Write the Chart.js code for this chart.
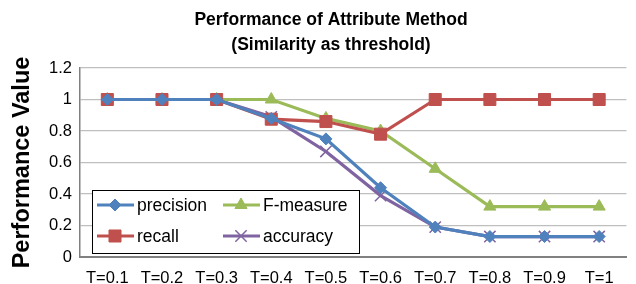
<!DOCTYPE html>
<html>
<head>
<meta charset="utf-8">
<script src="https://cdn.jsdelivr.net/npm/chart.js@4/dist/chart.umd.min.js"></script>
<style>
  html, body { margin: 0; padding: 0; background: #fff; }
  #wrap { width: 636px; height: 284px; }
</style>
</head>
<body>
<div id="wrap"><canvas id="chart"></canvas></div>
<script>
const labels = ["T=0.1", "T=0.2", "T=0.3", "T=0.4", "T=0.5", "T=0.6", "T=0.7", "T=0.8", "T=0.9", "T=1"];
const precision = [1, 1, 1, 0.88, 0.75, 0.44, 0.19, 0.13, 0.13, 0.13];
const recall = [1, 1, 1, 0.875, 0.86, 0.78, 1, 1, 1, 1];
const fMeasure = [1, 1, 1, 1, 0.88, 0.8, 0.56, 0.32, 0.32, 0.32];
const accuracy = [1, 1, 1, 0.89, 0.67, 0.39, 0.19, 0.13, 0.13, 0.13];
const titleLines = ["Performance of Attribute Method", "(Similarity as threshold)"];

const FONT = "'Liberation Sans', Arial, Helvetica, sans-serif";

function series(label, data, color, style, radius) {
    return {
        label, data,
        borderColor: color, backgroundColor: color,
        pointStyle: style, pointRadius: radius, pointHoverRadius: radius,
        pointBorderColor: color, pointBackgroundColor: color,
        pointBorderWidth: style === "crossRot" ? 1.5 : 1,
        borderWidth: 3.2, tension: 0
    };
}

// title and in-plot legend drawn by hand so they sit where the original has them
const extras = {
    id: "extras",
    afterDraw(chart) {
        const { ctx } = chart;
        ctx.save();
        ctx.fillStyle = "#000";
        ctx.font = "bold 17.5px " + FONT;
        ctx.textAlign = "center";
        ctx.textBaseline = "middle";
        ctx.fillText(titleLines[0], 331, 20);
        ctx.fillText(titleLines[1], 331, 45);

        // legend box
        const bx = 92, by = 190, bw = 267, bh = 63;
        ctx.fillStyle = "#fff";
        ctx.fillRect(bx, by, bw, bh);
        ctx.strokeStyle = "#000";
        ctx.lineWidth = 1;
        ctx.strokeRect(bx + 0.5, by + 0.5, bw, bh);
        ctx.font = "17.5px " + FONT;
        ctx.textAlign = "left";
        const order = [0, 2, 1, 3];
        const pos = [[97, 205], [223, 205], [97, 236], [223, 236]];
        order.forEach((di, i) => {
            const ds = chart.data.datasets[di];
            const [x, y] = pos[i];
            ctx.strokeStyle = ds.borderColor;
            ctx.lineWidth = 3;
            ctx.beginPath();
            ctx.moveTo(x, y); ctx.lineTo(x + 37, y);
            ctx.stroke();
            ctx.fillStyle = ds.pointBackgroundColor;
            ctx.strokeStyle = ds.pointBorderColor;
            ctx.lineWidth = ds.pointBorderWidth;
            Chart.helpers.drawPoint(ctx, {
                pointStyle: ds.pointStyle, radius: ds.pointRadius, borderWidth: ds.pointBorderWidth, rotation: 0
            }, x + 18, y);
            ctx.fillStyle = "#000";
            ctx.fillText(ds.label, x + 40, y + 1);
        });
        ctx.restore();
    }
};

new Chart(document.getElementById("chart"), {
    type: "line",
    data: {
        labels,
        datasets: [
            series("precision", precision, "#4F81BD", "rectRot", 6),
            series("recall", recall, "#C0504D", "rect", 8.5),
            series("F-measure", fMeasure, "#9BBB59", "triangle", 7),
            series("accuracy", accuracy, "#8064A2", "crossRot", 8)
        ]
    },
    options: {
        responsive: true, maintainAspectRatio: false, animation: false,
        layout: { padding: { top: 68, right: 2, bottom: 0, left: 8 } },
        plugins: { legend: { display: false }, title: { display: false }, tooltip: { enabled: false } },
        scales: {
            x: {
                offset: true,
                afterFit(scale) { scale.height = 27; },
                grid: { display: false },
                border: { color: "#808080", width: 2 },
                ticks: { color: "#000", font: { family: FONT, size: 16.5 }, maxRotation: 0, autoSkip: false, padding: 4 }
            },
            y: {
                min: 0, max: 1.2,
                afterFit(scale) { scale.width = 72; },
                grid: { color: "#bfbfbf", lineWidth: 1.2, tickLength: 0 },
                border: { color: "#808080", width: 1.5 },
                ticks: { stepSize: 0.2, color: "#000", font: { family: FONT, size: 16.5 }, padding: 8,
                    callback: v => String(Math.round(v * 10) / 10) },
                title: { display: true, text: "Performance Value", color: "#000",
                    font: { family: FONT, size: 23.5, weight: "bold" }, padding: { top: 0, bottom: 0 } }
            }
        }
    },
    plugins: [extras]
});
</script>
</body>
</html>
